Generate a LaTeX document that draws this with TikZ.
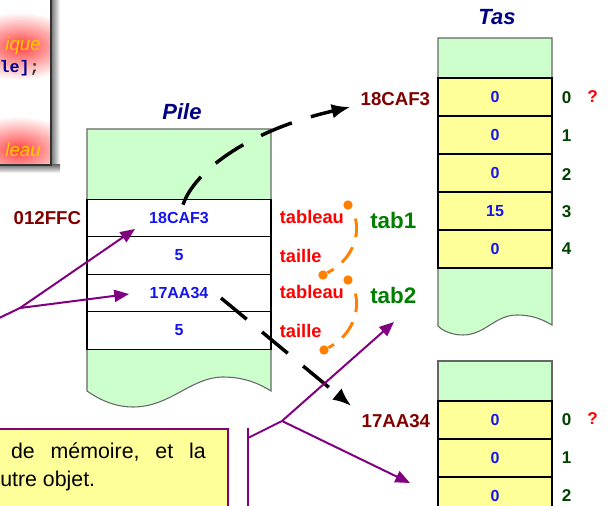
\documentclass[tikz,border=0pt]{standalone}
\usepackage{fontspec}
\setmainfont{Liberation Sans}
\setmonofont{Liberation Mono}
\usetikzlibrary{arrows.meta,calc}

\definecolor{pilegreen}{RGB}{204,255,204}
\definecolor{tasyellow}{RGB}{255,255,153}
\definecolor{addrred}{RGB}{128,0,0}
\definecolor{valblue}{RGB}{20,20,240}
\definecolor{titlenavy}{RGB}{0,0,128}
\definecolor{lblred}{RGB}{255,0,0}
\definecolor{tabgreen}{RGB}{0,128,0}
\definecolor{idxgreen}{RGB}{0,64,0}
\definecolor{linkorange}{RGB}{255,128,0}
\definecolor{notepurple}{RGB}{128,0,128}
\definecolor{glowyellow}{RGB}{255,204,0}
\definecolor{codeblue}{RGB}{0,0,150}

\begin{document}
\begin{tikzpicture}[x=0.75pt,y=-0.75pt,
  pilecell/.style={draw=black, line width=0.9pt, fill=white, minimum width=138pt, minimum height=28.1pt, inner sep=0pt, font=\bfseries\fontsize{12}{14}\selectfont, text=valblue},
  tascell/.style={draw=black, line width=0.9pt, fill=tasyellow, minimum width=85.5pt, minimum height=28.5pt, inner sep=0pt, font=\bfseries\fontsize{12}{14}\selectfont, text=valblue},
  memzone/.style={draw=black!60, line width=0.8pt, fill=pilegreen},
  addr/.style={font=\bfseries\fontsize{14}{16}\selectfont, text=addrred, inner sep=0pt, anchor=east},
  field/.style={font=\bfseries\fontsize{13.7}{16}\selectfont, text=lblred, inner sep=0pt, anchor=west},
  tabname/.style={font=\bfseries\fontsize{16.8}{19}\selectfont, text=tabgreen, inner sep=0pt, anchor=west},
  paneltitle/.style={font=\bfseries\itshape\fontsize{16.5}{19}\selectfont, text=titlenavy, inner sep=0pt},
  idx/.style={font=\bfseries\fontsize{12.8}{15}\selectfont, text=idxgreen, inner sep=0pt},
  qmark/.style={font=\bfseries\fontsize{12.8}{15}\selectfont, text=lblred, inner sep=0pt},
  memlink/.style={black, line width=2.6pt, dash pattern=on 25pt off 15pt, -{Latex[length=14pt,width=11pt]}},
  reflink/.style={linkorange, line width=2.2pt, dash pattern=on 14pt off 8pt},
  refdot/.style={circle, fill=linkorange, inner sep=0pt, minimum size=7pt},
  notearrow/.style={notepurple, line width=1.5pt, -{Triangle[length=11pt,width=9pt]}},
  noteline/.style={notepurple, line width=1.5pt},
  glowtext/.style={font=\itshape\fontsize{14}{16}\selectfont, text=glowyellow, inner sep=0pt, anchor=east}
]
\useasboundingbox (0,0) rectangle (608,506);
\clip (0,0) rectangle (608,506);

% ---- code box (top left, cut off)
\shade[left color=black!55, right color=white] (51,-5) rectangle (60,173);
\shade[top color=black!55, bottom color=white] (-5,165) rectangle (60,173);
\fill[white] (-5,-5) rectangle (51,165);
\begin{scope}
  \clip (-5,-5) rectangle (51,165);
  \shade[inner color=red!75, outer color=white] (20,46) ellipse [x radius=60, y radius=34];
  \shade[inner color=red!75, outer color=white] (18,150) ellipse [x radius=60, y radius=34];
\end{scope}
\draw[black!80, line width=1pt] (-5,-5) rectangle (51,165);
\node[glowtext] (codeA) at (41,46) {ique};
\node[anchor=east, inner sep=0pt, font=\ttfamily\bfseries\fontsize{12.5}{15}\selectfont] (codeB) at (40,68) {\textcolor{codeblue}{le]}\textcolor{black!80}{;}};
\node[glowtext] (codeC) at (41,150) {leau};

% ---- Pile
\node[paneltitle] (piletitle) at (182,112) {Pile};
\draw[memzone] (87,129) -- (271,129) -- (271,391)
  .. controls (255,381) and (240,377) .. (222,377)
  .. controls (190,378) and (170,407) .. (133,407)
  .. controls (113,407) and (97,398) .. (87,391) -- cycle;
\node[pilecell] (p1) at (179,218) {18CAF3};
\node[pilecell] (p2) at (179,255.5) {5};
\node[pilecell] (p3) at (179,293) {17AA34};
\node[pilecell] (p4) at (179,330.5) {5};

\node[addr] (a012) at ($(p1.west)+(-5,0)$) {012FFC};
\node[field] (f1) at ($(p1.east)+(8,-1)$) {tableau};
\node[field] (f2) at ($(p2.east)+(8,0)$) {taille};
\node[field] (f3) at ($(p3.east)+(8,-1)$) {tableau};
\node[field] (f4) at ($(p4.east)+(8,0)$) {taille};
\node[tabname] (tab1) at (370,220) {tab1};
\node[tabname] (tab2) at (370,295) {tab2};

% orange brackets
\node[refdot] (d1a) at (348,205) {};
\node[refdot] (d1b) at (323,275) {};
\node[refdot] (d2a) at (348,280) {};
\node[refdot] (d2b) at (324,350) {};
\draw[reflink, dash phase=-8pt] (d1a) .. controls (361,222) and (360,256) .. (d1b);
\draw[reflink, dash phase=-8pt] (d2a) .. controls (361,297) and (360,331) .. (d2b);

% ---- Tas 1
\node[paneltitle] (tastitle) at (497,17) {Tas};
\draw[memzone] (438,38) -- (552,38) -- (552,325)
  .. controls (540,318) and (530,315) .. (517,315)
  .. controls (495,315) and (485,335) .. (463,335)
  .. controls (452,335) and (443,331) .. (438,326) -- cycle;
\node[tascell] (t0) at (495,97) {0};
\node[tascell] (t1) at (495,135) {0};
\node[tascell] (t2) at (495,173) {0};
\node[tascell] (t3) at (495,211) {15};
\node[tascell] (t4) at (495,249) {0};
\node[idx] (i0) at ($(t0.east)+(14,1)$) {0};
\node[idx] (i1) at ($(t1.east)+(14,1)$) {1};
\node[idx] (i2) at ($(t2.east)+(14,2)$) {2};
\node[idx] (i3) at ($(t3.east)+(14,1)$) {3};
\node[idx] (i4) at ($(t4.east)+(14,0)$) {4};
\node[qmark] (q0) at ($(t0.east)+(40,0)$) {?};
\node[addr] (a18) at ($(t0.west)+(-7,2)$) {18CAF3};

% ---- Tas 2
\draw[memzone] (438,361) rectangle (552,530);
\node[tascell] (u0) at (495,420) {0};
\node[tascell] (u1) at (495,458) {0};
\node[tascell] (u2) at (495,496) {0};
\node[idx] (j0) at ($(u0.east)+(14,0)$) {0};
\node[idx] (j1) at ($(u1.east)+(14,0)$) {1};
\node[idx] (j2) at ($(u2.east)+(14,0)$) {2};
\node[qmark] (q1) at ($(u0.east)+(40,-1)$) {?};
\node[addr] (a17) at ($(u0.west)+(-7,1)$) {17AA34};

% ---- pointer arrows
\coordinate (m1s) at ($(p1.north)+(4,6)$);
\coordinate (m1e) at ($(a18.west)+(-10,8)$);
\draw[memlink] (m1s) .. controls (195,170) and (250,130) .. (m1e);
\coordinate (m2s) at ($(p3.center)+(42,5)$);
\coordinate (m2e) at ($(a17.west)+(-10,-15)$);
\draw[memlink] (m2s) -- (m2e);

% ---- note box and purple callouts
\draw[notepurple, line width=1.5pt, fill=tasyellow] (-5,429) rectangle (228,520);
\node[anchor=east, inner sep=0pt, font=\fontsize{16}{19}\selectfont] (nl1) at (206,452) {\hbox to 146pt{de\hfill mémoire,\hfill et\hfill la}};
\node[anchor=west, inner sep=0pt, font=\fontsize{16}{19}\selectfont] (nl2) at (0,481) {utre objet.};

\coordinate (n1l) at (-5,320);
\coordinate (n1j) at (20,308);
\coordinate (n1a) at ($(p1.center)+(-44,11)$);
\coordinate (n1b) at ($(p3.center)+(-50,1)$);
\draw[noteline] (n1l) -- (n1j);
\draw[notearrow] (n1j) -- (n1a);
\draw[notearrow] (n1j) -- (n1b);

\coordinate (n2top) at (248,428);
\coordinate (n2bot) at (248,520);
\coordinate (n2s) at (248,438);
\coordinate (n2j) at (282,421);
\coordinate (n2a) at (394,322);
\coordinate (n2b) at (410,483);
\draw[noteline] (n2top) -- (n2bot);
\draw[noteline] (n2s) -- (n2j);
\draw[notearrow] (n2j) -- (n2a);
\draw[notearrow] (n2j) -- (n2b);
\end{tikzpicture}
\end{document}
